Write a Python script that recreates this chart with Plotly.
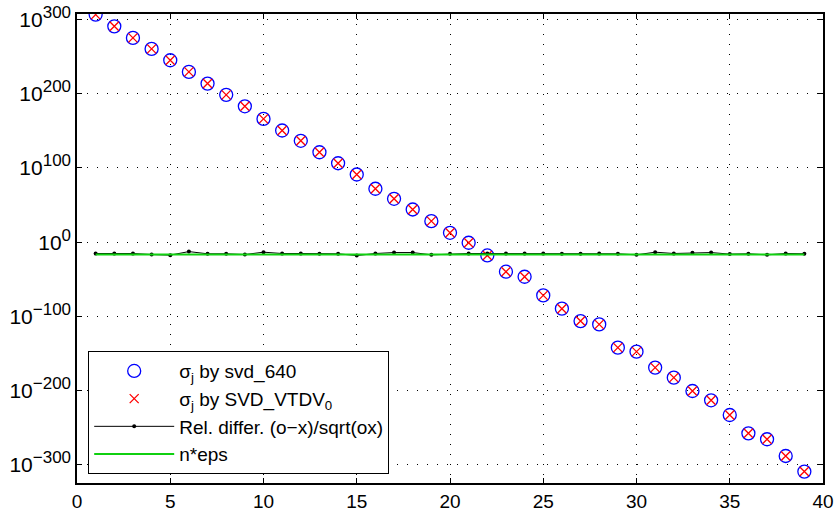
import plotly.graph_objects as go

# index j of each singular value
j = list(range(1, 40))

# decimal exponents of sigma_j (both methods give the same values)
sigma_exp = [306.5, 290.7, 275.1, 260.3, 245.0, 229.3, 213.6, 198.4, 183.0, 166.0,
             150.4, 136.5, 121.1, 106.3, 91.1, 71.9, 58.4, 44.0, 28.3, 12.6,
             -0.8, -17.9, -39.8, -46.6, -71.7, -89.6, -106.3, -110.8, -142.1, -147.5,
             -169.0, -182.5, -200.5, -213.0, -232.8, -257.5, -265.5, -288.0, -309.0]

# decimal exponents of the relative difference (o-x)/sqrt(ox)
reldiff_exp = [-15.3, -15.3, -15.3, -16.7, -17.5, -12.7, -15.7, -15.7, -16.7, -13.5,
               -15.3, -15.3, -15.7, -15.7, -18.0, -15.3, -14.0, -14.0, -17.1, -15.7,
               -15.3, -15.3, -15.3, -15.3, -15.3, -15.7, -15.7, -15.3, -15.7, -17.1,
               -13.5, -15.3, -14.4, -14.0, -16.1, -15.7, -17.1, -15.3, -15.7]

neps_exp = -16.6

y_tick_exp = [-300, -200, -100, 0, 100, 200, 300]
x_ticks = [0, 5, 10, 15, 20, 25, 30, 35, 40]

sigma_svd640 = [10.0 ** e for e in sigma_exp]
sigma_vtdv = [10.0 ** e for e in sigma_exp]
reldiff = [10.0 ** e for e in reldiff_exp]
neps = [10.0 ** neps_exp] * len(j)

font = "Liberation Sans, Arial, Helvetica, sans-serif"


def power_label(e):
    exp_txt = str(e).replace("-", "−")
    return "10<sup><span style='font-size:17px'>" + exp_txt + "</span></sup>"


fig = go.Figure()
fig.add_trace(go.Scatter(
    x=j, y=sigma_svd640, mode="markers", name="σ<sub>j</sub> by svd_640",
    marker=dict(symbol="circle-open", size=13, color="#0000ff", line=dict(width=1.3)),
))
fig.add_trace(go.Scatter(
    x=j, y=sigma_vtdv, mode="markers", name="σ<sub>j</sub> by SVD_VTDV<sub>0</sub>",
    marker=dict(symbol="x-thin-open", size=9, color="#ff0000", line=dict(width=1.3, color="#ff0000")),
))
fig.add_trace(go.Scatter(
    x=j, y=reldiff, mode="lines+markers", name="Rel. differ. (o−x)/sqrt(ox)",
    line=dict(color="#000000", width=1),
    marker=dict(symbol="circle", size=4, color="#000000"),
))
fig.add_trace(go.Scatter(
    x=j, y=neps, mode="lines", name="n*eps",
    line=dict(color="#10d010", width=2),
))

fig.update_layout(
    width=837, height=512,
    margin=dict(l=77, r=14, t=14, b=29),
    paper_bgcolor="white", plot_bgcolor="white",
    font=dict(family=font, size=15, color="black"),
    showlegend=True,
    legend=dict(
        x=0.015, y=0.019, xanchor="left", yanchor="bottom",
        bgcolor="white", bordercolor="black", borderwidth=1,
        font=dict(family=font, size=19, color="black"),
        itemwidth=80, tracegroupgap=0,
    ),
)

fig.update_xaxes(
    range=[0, 40], tickvals=x_ticks, ticktext=[str(v) for v in x_ticks],
    showline=True, linecolor="black", linewidth=1.5, mirror="ticks",
    ticks="inside", ticklen=5, tickcolor="black",
    showgrid=True, gridcolor="black", gridwidth=1, griddash="1px,9px",
    zeroline=False, tickfont=dict(size=19), automargin=False,
)
fig.update_yaxes(
    type="log", range=[-324.4, 307.3],
    tickvals=[10.0 ** e for e in y_tick_exp],
    ticktext=[power_label(e) for e in y_tick_exp],
    showline=True, linecolor="black", linewidth=1.5, mirror="ticks",
    ticks="inside", ticklen=5, tickcolor="black",
    showgrid=True, gridcolor="black", gridwidth=1, griddash="1px,9px",
    zeroline=False, tickfont=dict(size=21), automargin=False,
)

fig.write_html("out.html")
